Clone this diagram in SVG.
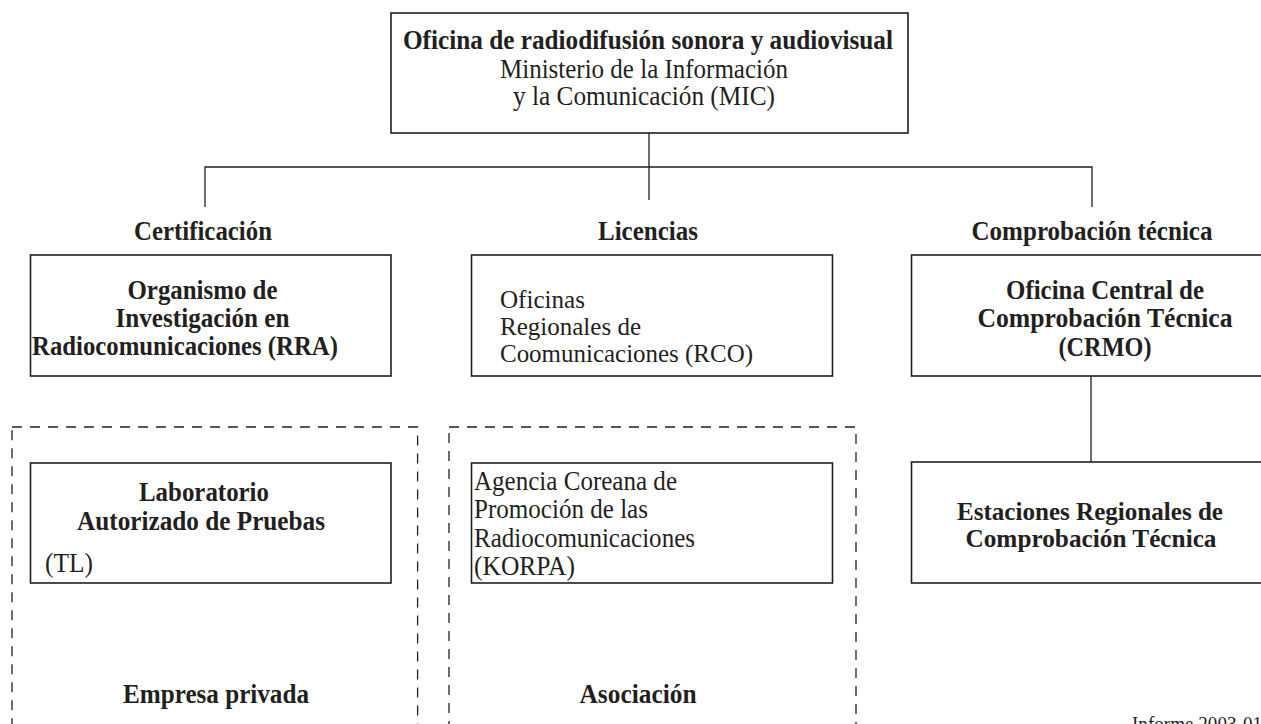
<svg xmlns="http://www.w3.org/2000/svg" width="1261" height="724" viewBox="0 0 1261 724">
<style>
.box{fill:#fff;stroke:#231f20;stroke-width:1.6}
.dash{fill:none;stroke:#231f20;stroke-width:1.3;stroke-dasharray:10 8}
.conn{stroke:#231f20;stroke-width:1.3;fill:none}
text{font-family:"Liberation Serif","Times New Roman",serif;font-size:27px;fill:#231f20}
.b{font-weight:bold}
.c{text-anchor:middle}
.s{font-size:26px}
</style>
<rect width="1261" height="724" fill="#fff"/>
<g id="connectors">
<path class="conn" d="M649 133V200M205 207V167H1092V207M1091 376V462"/>
</g>
<g id="group-empresa">
<rect class="dash" x="12" y="427" width="405.6" height="330"/>
<text class="b c" x="216" y="703" textLength="186" lengthAdjust="spacingAndGlyphs">Empresa privada</text>
</g>
<g id="group-asociacion">
<rect class="dash" x="449" y="427" width="407" height="330"/>
<text class="b c" x="638" y="703" textLength="117" lengthAdjust="spacingAndGlyphs">Asociación</text>
</g>
<g id="mic">
<rect class="box" x="391" y="13" width="517" height="120"/>
<text class="b c" x="648" y="49" textLength="490" lengthAdjust="spacingAndGlyphs">Oficina de radiodifusión sonora y audiovisual</text>
<text class="c" x="644" y="78" textLength="288" lengthAdjust="spacingAndGlyphs">Ministerio de la Información</text>
<text class="c" x="644" y="105" textLength="262" lengthAdjust="spacingAndGlyphs">y la Comunicación (MIC)</text>
</g>
<g id="label-cert"><text class="b c" x="203" y="240" textLength="138" lengthAdjust="spacingAndGlyphs">Certificación</text></g>
<g id="label-lic"><text class="b c" x="648" y="240" textLength="100" lengthAdjust="spacingAndGlyphs">Licencias</text></g>
<g id="label-comp"><text class="b c" x="1092" y="240" textLength="241" lengthAdjust="spacingAndGlyphs">Comprobación técnica</text></g>
<g id="rra">
<rect class="box" x="30.5" y="255" width="360.5" height="121"/>
<text class="b c" x="202.5" y="299" textLength="150" lengthAdjust="spacingAndGlyphs">Organismo de</text>
<text class="b c" x="202.5" y="327" textLength="174" lengthAdjust="spacingAndGlyphs">Investigación en</text>
<text class="b" x="32" y="355" textLength="306" lengthAdjust="spacingAndGlyphs">Radiocomunicaciones (RRA)</text>
</g>
<g id="rco">
<rect class="box" x="471.5" y="255" width="361" height="121"/>
<text class="s" x="500" y="308" textLength="85" lengthAdjust="spacingAndGlyphs">Oficinas</text>
<text class="s" x="500" y="335" textLength="141" lengthAdjust="spacingAndGlyphs">Regionales de</text>
<text class="s" x="500" y="362" textLength="253" lengthAdjust="spacingAndGlyphs">Coomunicaciones (RCO)</text>
</g>
<g id="crmo">
<rect class="box" x="911.5" y="255" width="361" height="121"/>
<text class="b c" x="1105" y="299" textLength="198" lengthAdjust="spacingAndGlyphs">Oficina Central de</text>
<text class="b c" x="1105" y="327" textLength="255" lengthAdjust="spacingAndGlyphs">Comprobación Técnica</text>
<text class="b c" x="1105" y="356" textLength="93" lengthAdjust="spacingAndGlyphs">(CRMO)</text>
</g>
<g id="tl">
<rect class="box" x="30.5" y="463" width="360.5" height="120"/>
<text class="b c" x="204" y="501" textLength="130" lengthAdjust="spacingAndGlyphs">Laboratorio</text>
<text class="b c" x="201" y="530" textLength="248" lengthAdjust="spacingAndGlyphs">Autorizado de Pruebas</text>
<text x="45" y="572" textLength="48" lengthAdjust="spacingAndGlyphs">(TL)</text>
</g>
<g id="korpa">
<rect class="box" x="471.5" y="463" width="361" height="120"/>
<text x="474" y="490" textLength="203" lengthAdjust="spacingAndGlyphs">Agencia Coreana de</text>
<text x="474" y="518" textLength="174" lengthAdjust="spacingAndGlyphs">Promoción de las</text>
<text x="474" y="547" textLength="221" lengthAdjust="spacingAndGlyphs">Radiocomunicaciones</text>
<text x="474" y="575" textLength="101" lengthAdjust="spacingAndGlyphs">(KORPA)</text>
</g>
<g id="estaciones">
<rect class="box" x="911.5" y="462" width="361" height="121"/>
<text class="b c s" x="1090" y="520" textLength="266" lengthAdjust="spacingAndGlyphs">Estaciones Regionales de</text>
<text class="b c s" x="1091" y="547" textLength="251" lengthAdjust="spacingAndGlyphs">Comprobación Técnica</text>
</g>
<text x="1132" y="731" style="font-size:20px" textLength="130" lengthAdjust="spacingAndGlyphs">Informe 2003-01</text>
</svg>
